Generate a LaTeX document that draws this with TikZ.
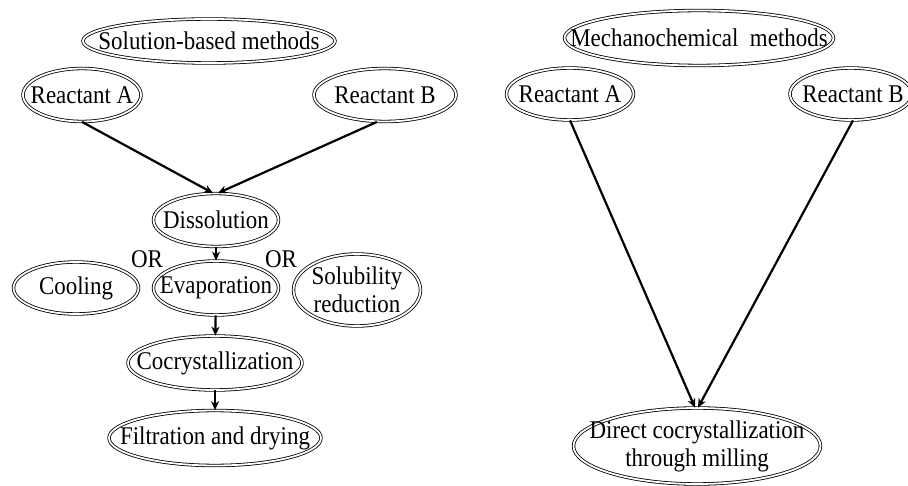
\documentclass[tikz,border=0pt]{standalone}
\usepackage{fontspec}
\setmainfont{Liberation Serif}[FakeStretch=0.9]
\usetikzlibrary{shapes.geometric,arrows.meta}
\begin{document}
\begin{tikzpicture}[x=1pt,y=-1pt,
  ell/.style={ellipse, draw, double, double distance=1.8pt, line width=0.8pt, inner sep=0pt},
  lbl/.style={font=\fontsize{25.5}{28}\selectfont, inner sep=0pt, align=center},
  arr/.style={line width=2.2pt, -{Stealth[length=9pt,width=8pt]}}]
\useasboundingbox (0,0) rectangle (908,486);
% left: solution-based
\node[ell, minimum width=252, minimum height=44] (sol) at (209,41) {};
\node[lbl] (solT) at (sol) {Solution-based methods};
\node[ell, minimum width=118, minimum height=53] (la) at (82,95) {};
\node[lbl] (laT) at (la) {Reactant A};
\node[ell, minimum width=142, minimum height=53] (lb) at (385,95) {};
\node[lbl] (lbT) at (lb) {Reactant B};
\node[ell, minimum width=125, minimum height=53] (dis) at (216,220) {};
\node[lbl] (disT) at (dis) {Dissolution};
\node[ell, minimum width=125, minimum height=54] (eva) at (216,288) {};
\node[lbl] (evaT) at (eva) {Evaporation};
\node[ell, minimum width=125, minimum height=52] (coo) at (76,288) {};
\node[lbl] (cooT) at (coo) {Cooling};
\node[ell, minimum width=127, minimum height=72] (sub) at (357,290) {};
\node[lbl] (subT) at (sub) {Solubility\\reduction};
\node[lbl] (or1) at (147,259) {OR};
\node[lbl] (or2) at (281,259) {OR};
\node[ell, minimum width=174, minimum height=54] (coc) at (215,363) {};
\node[lbl] (cocT) at (coc) {Cocrystallization};
\node[ell, minimum width=212, minimum height=55] (fil) at (215,438) {};
\node[lbl] (filT) at (fil) {Filtration and drying};
\draw[arr] (la.south) -- ([xshift=-3pt]dis.north);
\draw[arr] ([xshift=-8pt]lb.south) -- ([xshift=2pt]dis.north);
\draw[arr] (dis) -- (eva);
\draw[arr] (eva) -- (coc);
\draw[arr] (coc) -- (fil);
% right: mechanochemical
\node[ell, minimum width=269, minimum height=55] (mech) at (699,38) {};
\node[lbl] (mechT) at (mech) {Mechanochemical\ \ methods};
\node[ell, minimum width=127, minimum height=52] (ra) at (570,94) {};
\node[lbl] (raT) at (ra) {Reactant A};
\node[ell, minimum width=122, minimum height=52] (rb) at (851,94) {};
\node[lbl] (rbT) at ([xshift=2pt]rb.center) {Reactant B};
\node[ell, minimum width=247, minimum height=76] (dc) at (697,446) {};
\node[lbl] (dcT) at (dc) {Direct cocrystallization\\through milling};
\draw[arr] (ra.south) -- ([xshift=-2pt]dc.north);
\draw[arr] ([xshift=2pt]rb.south) -- ([xshift=1pt]dc.north);
\end{tikzpicture}
\end{document}
